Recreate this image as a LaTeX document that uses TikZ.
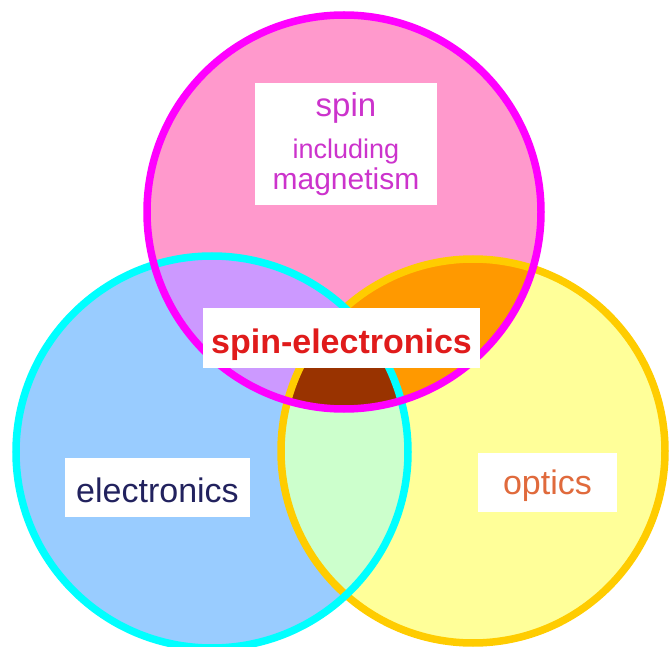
\documentclass[tikz,border=0pt]{standalone}
\usepackage{fontspec}
\setmainfont{Liberation Sans}
\usepackage{xcolor}
\usepackage{tikz}
\usetikzlibrary{positioning}

\definecolor{spinpink}{HTML}{FF99CC}
\definecolor{elecblue}{HTML}{99CCFF}
\definecolor{optyellow}{HTML}{FFFF99}
\definecolor{spinelec}{HTML}{CC99FF}
\definecolor{spinopt}{HTML}{FF9900}
\definecolor{elecopt}{HTML}{CCFFCC}
\definecolor{allthree}{HTML}{993300}
\definecolor{spinring}{HTML}{FF00FF}
\definecolor{elecring}{HTML}{00FFFF}
\definecolor{optring}{HTML}{FFCC00}
\definecolor{spintext}{HTML}{CC33CC}
\definecolor{redtext}{HTML}{E01B1B}
\definecolor{navytext}{HTML}{22225E}
\definecolor{orangetext}{HTML}{E06A3C}

\begin{document}
\begin{tikzpicture}[x=1pt, y=-1pt,
    ring/.style={line width=7.5pt},
    labelbox/.style={fill=white, inner sep=0pt, align=center}]
    \useasboundingbox (0,0) rectangle (670,647);

    \coordinate (s) at (344,212);
    \coordinate (e) at (212,452);
    \coordinate (o) at (473,451);

    % discs
    \fill[spinpink] (s) circle[radius=197];
    \fill[elecblue] (e) circle[radius=196];
    \fill[optyellow] (o) circle[radius=192];

    % overlaps
    \begin{scope}
        \clip (s) circle[radius=197];
        \fill[spinelec] (e) circle[radius=196];
        \fill[spinopt] (o) circle[radius=192];
    \end{scope}
    \begin{scope}
        \clip (e) circle[radius=196];
        \fill[elecopt] (o) circle[radius=192];
        \clip (s) circle[radius=197];
        \fill[allthree] (o) circle[radius=192];
    \end{scope}

    % rings
    \draw[ring, optring] (o) circle[radius=192];
    \draw[ring, elecring] (e) circle[radius=196];
    \draw[ring, spinring] (s) circle[radius=197];

    % labels
    \node[labelbox, minimum width=182pt, minimum height=122pt, text=spintext,
          font=\fontsize{30}{36}\selectfont] (spin) at (346,144)
        {{\fontsize{33}{33}\selectfont spin}\\[6pt]
         {\fontsize{27}{27}\selectfont including}\\[-5pt]
         magnetism};
    \node[labelbox, minimum width=277pt, text height=45pt, text depth=15pt,
          text=redtext, font=\bfseries\fontsize{34}{34}\selectfont]
        (spinelec) at (341.5,338) {spin-electronics};
    \node[labelbox, minimum width=185pt, text height=44pt, text depth=15pt,
          text=navytext, font=\fontsize{34}{34}\selectfont]
        (elec) at (157.5,487.5) {electronics};
    \node[labelbox, minimum width=139pt, text height=41pt, text depth=18pt,
          text=orangetext, font=\fontsize{34}{34}\selectfont]
        (opt) at (547.5,482.5) {optics};
\end{tikzpicture}
\end{document}
